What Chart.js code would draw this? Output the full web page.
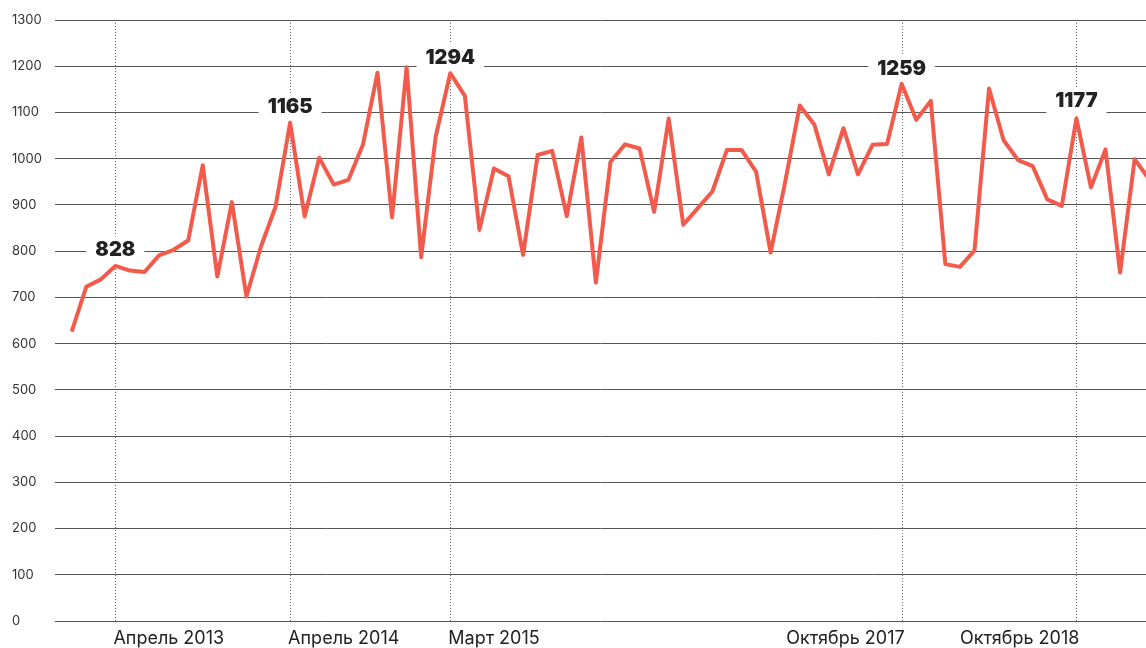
<!DOCTYPE html>
<html lang="ru">

<head>
    <meta charset="UTF-8">
    <meta name="viewport" content="width=device-width, initial-scale=1.0">
    <script src="https://cdn.jsdelivr.net/npm/chart.js"></script>
    <title>Помесячная динамика</title>
    <style>
        html, body { margin: 0; padding: 0; background: #fff; }
        .container { width: 1146px; height: 648px; overflow: hidden; }
    </style>
    <script>
        // помесячные значения, первый месяц - январь 2013
        const values = [626, 723, 739, 768, 758, 755, 791, 803, 823, 986, 745, 906, 702, 810, 896,
            1078, 875, 1002, 944, 954, 1030, 1186, 873, 1198, 787, 1048, 1185, 1136, 846, 979,
            962, 792, 1008, 1017, 876, 1046, 732, 993, 1031, 1022, 885, 1087, 857, 893, 929,
            1019, 1019, 972, 797, 950, 1115, 1074, 966, 1066, 966, 1030, 1032, 1162, 1084, 1125,
            772, 766, 801, 1152, 1040, 997, 984, 912, 898, 1087, 938, 1020, 754, 999, 955];

        // отмеченные месяцы (индекс от января 2013) и подписи к ним
        const markerIndex = [3, 15, 26, 57, 69];
        const markerDates = ['Апрель 2013', 'Апрель 2014', 'Март 2015', 'Октябрь 2017', 'Октябрь 2018'];
        const peakLabels = ['828', '1165', '1294', '1259', '1177'];
        const peakLevel = [802, 1112, 1218, 1195, 1124]; // высота подписи в единицах оси

        const yMin = 0;
        const yMax = 1300;
        const yStep = 100;
    </script>
</head>

<body>
    <div class="container">
        <canvas id="myChart" width="1146" height="648"></canvas>
    </div>
    <script>
        const RED = '#f25a4c';
        const TEXT = '#222';

        // пунктир, белые плашки с числами и подписи дат
        const markers = {
            id: 'markers',
            beforeDatasetsDraw(chart) {
                const ctx = chart.ctx;
                const area = chart.chartArea;
                const x = chart.scales.x, y = chart.scales.y;
                ctx.save();
                ctx.strokeStyle = '#666';
                ctx.lineWidth = 1;
                ctx.setLineDash([1, 2]);
                markerIndex.forEach(function (m) {
                    const px = Math.round(x.getPixelForValue(m)) + 0.5;
                    ctx.beginPath();
                    ctx.moveTo(px, area.top);
                    ctx.lineTo(px, area.bottom);
                    ctx.stroke();
                });
                ctx.setLineDash([]);
                ctx.font = '900 20px Inter';
                ctx.textAlign = 'center';
                ctx.textBaseline = 'middle';
                markerIndex.forEach(function (m, i) {
                    const px = x.getPixelForValue(m);
                    const py = y.getPixelForValue(peakLevel[i]);
                    const w = ctx.measureText(peakLabels[i]).width + 18;
                    ctx.fillStyle = '#fff';
                    ctx.fillRect(px - w / 2, py - 14, w, 28);
                    ctx.fillStyle = TEXT;
                    ctx.fillText(peakLabels[i], px, py);
                });
                ctx.restore();
            },
            afterDraw(chart) {
                const ctx = chart.ctx;
                const x = chart.scales.x;
                ctx.save();
                ctx.font = '18px Inter';
                ctx.fillStyle = TEXT;
                ctx.textBaseline = 'alphabetic';
                markerIndex.forEach(function (m, i) {
                    const px = x.getPixelForValue(m);
                    ctx.textAlign = i < 3 ? 'left' : 'right';
                    ctx.fillText(markerDates[i], i < 3 ? px - 2 : px + 3, 644);
                });
                ctx.restore();
            }
        };

        const points = values.map(function (v, i) { return { x: i, y: v }; });

        const config = {
            type: 'line',
            data: {
                datasets: [{
                    data: points,
                    borderColor: RED,
                    borderWidth: 4,
                    pointRadius: 0,
                    tension: 0,
                    borderJoinStyle: 'round'
                }]
            },
            options: {
                responsive: false,
                animation: false,
                layout: { padding: { left: 12, right: 0, top: 20, bottom: 27 } },
                plugins: {
                    legend: { display: false },
                    tooltip: { enabled: false }
                },
                scales: {
                    x: {
                        type: 'linear',
                        display: false,
                        min: -1.147,
                        max: 73.78
                    },
                    y: {
                        min: yMin,
                        max: yMax,
                        afterFit: function (s) { s.width = 43; },
                        border: { display: false },
                        grid: { color: '#555', lineWidth: 1, drawTicks: false },
                        ticks: {
                            stepSize: yStep,
                            crossAlign: 'far',
                            color: '#333',
                            font: { family: 'Inter', size: 13 },
                            callback: function (v) { return String(v); }
                        }
                    }
                }
            },
            plugins: [markers]
        };
        new Chart(document.getElementById('myChart'), config);
    </script>
</body>

</html>
